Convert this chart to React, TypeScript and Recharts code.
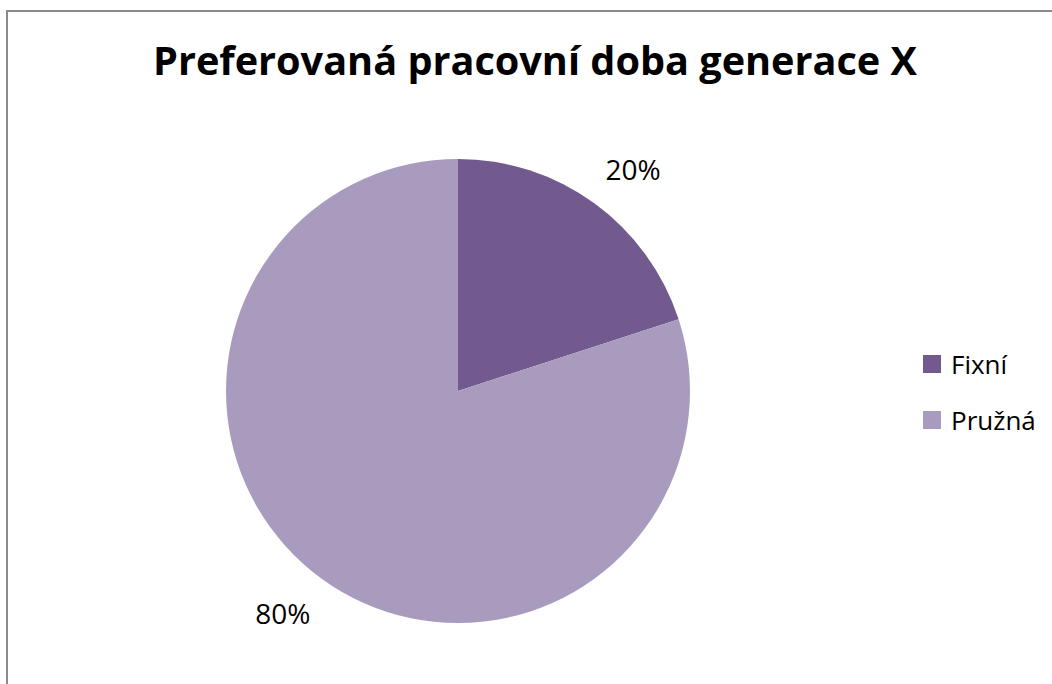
import React from 'react';
import { PieChart, Pie, Cell, Legend } from 'recharts';

const categories = ['Fixní', 'Pružná'];
const values = [20, 80];
const colors = ['#725a8f', '#a99bbe'];
const title = 'Preferovaná pracovní doba generace X';

const data = categories.map((name, i) => ({ name, value: values[i] }));

const RADIAN = Math.PI / 180;

const renderLabel = (props: any) => {
  const { cx, cy, midAngle, outerRadius, percent } = props;
  const rx = outerRadius + 66;
  const ry = outerRadius + 42;
  const x = cx + rx * Math.cos(-midAngle * RADIAN);
  const y = cy + ry * Math.sin(-midAngle * RADIAN);
  return (
    <text x={x} y={y} textAnchor="middle" dominantBaseline="central" fill="#000" fontFamily="'Open Sans'" fontSize={28}>
      {`${Math.round(percent * 100)}%`}
    </text>
  );
};

const renderLegend = () => (
  <div style={{ fontFamily: "'Open Sans'", fontSize: 26, color: '#000' }}>
    {categories.map((c, i) => (
      <div key={c} style={{ display: 'flex', alignItems: 'center', height: 56 }}>
        <div style={{ width: 18, height: 18, background: colors[i], marginRight: 10 }} />
        <span style={{ lineHeight: '26px' }}>{c}</span>
      </div>
    ))}
  </div>
);

export default function App() {
  return (
    <div style={{ position: 'absolute', left: 0, top: 0, width: 1052, height: 684, overflow: 'hidden', background: '#fff' }}>
      <div style={{ position: 'absolute', left: 6, top: 10, width: 1200, height: 800, borderLeft: '2px solid #8a8a8a', borderTop: '2px solid #8a8a8a' }} />
      <div style={{ position: 'absolute', left: 0, top: 0 }}>
        <PieChart width={1052} height={684} margin={{ top: 0, right: 0, bottom: 0, left: 0 }}>
          <text x={535} y={75} textAnchor="middle" fontFamily="'Open Sans'" fontWeight="bold" fontSize={40} fill="#000" textLength={764} lengthAdjust="spacingAndGlyphs">
            {title}
          </text>
          <Pie
            data={data}
            dataKey="value"
            nameKey="name"
            cx={458}
            cy={391}
            outerRadius={232}
            startAngle={90}
            endAngle={-270}
            stroke="none"
            label={renderLabel}
            labelLine={false}
            isAnimationActive={false}
          >
            {data.map((d, i) => (
              <Cell key={d.name} fill={colors[i]} />
            ))}
          </Pie>
          <Legend content={renderLegend} wrapperStyle={{ position: 'absolute', left: 923, top: 336, width: 130 }} />
        </PieChart>
      </div>
    </div>
  );
}
